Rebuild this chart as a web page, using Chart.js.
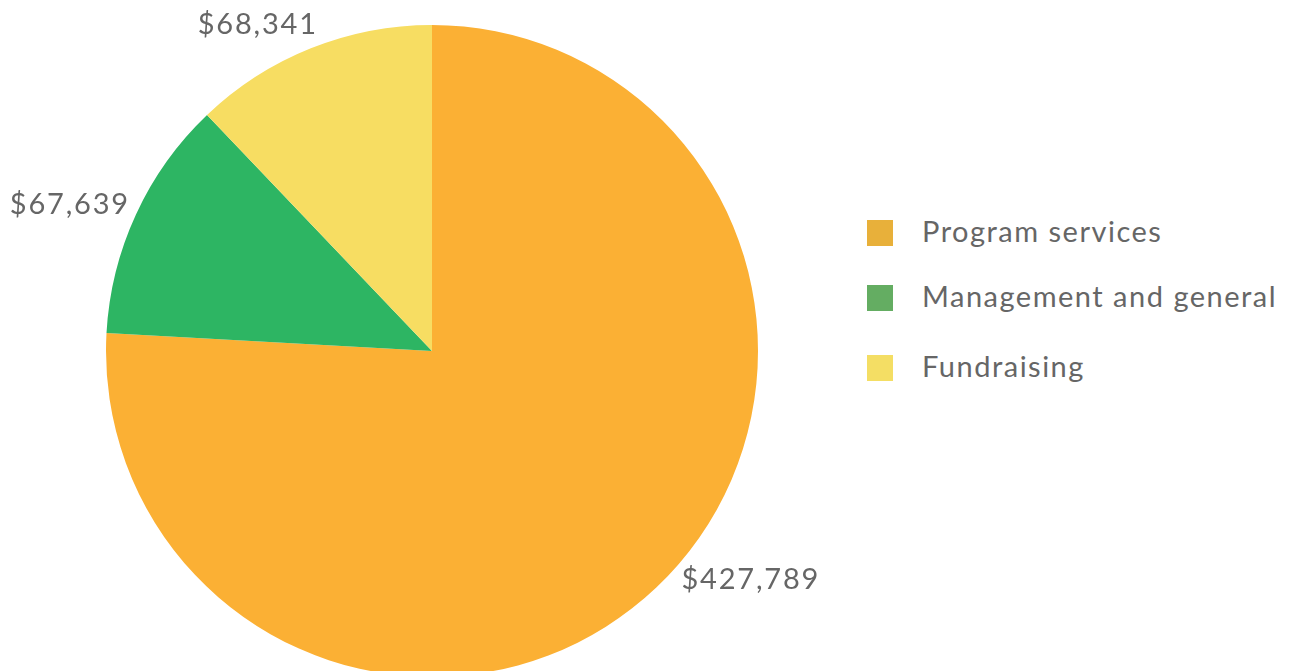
<!DOCTYPE html>
<html>
<head>
<meta charset="utf-8">
<script src="https://cdn.jsdelivr.net/npm/chart.js@4"></script>
<style>
html,body{margin:0;padding:0;background:#fff;overflow:hidden;width:1291px;height:671px;}
#wrap{position:absolute;left:0;top:0;width:864px;height:702px;}
#legend{position:absolute;left:867px;top:0;font-family:Lato,"Open Sans",sans-serif;font-size:29px;letter-spacing:1.5px;color:#666;}
.item{position:absolute;left:0;white-space:nowrap;height:26px;}
.sw{position:absolute;left:0;top:0;width:26px;height:26px;}
.tx{position:absolute;left:55px;top:-6px;line-height:34px;}
</style>
</head>
<body>
<div id="wrap"><canvas id="c" width="864" height="702"></canvas></div>
<div id="legend"></div>
<script>
const categories = ["Program services", "Management and general", "Fundraising"];
const amounts = [427789, 67639, 68341];
const amountLabels = ["$427,789", "$67,639", "$68,341"];
const sliceColors = ["#FBB034", "#2DB563", "#F7DD62"];
const legendColors = ["#E8B03A", "#64AD62", "#F4DE64"];

// legend (HTML)
const legendTops = [233, 298, 368];
const lg = document.getElementById('legend');
categories.forEach((name, i) => {
  const d = document.createElement('div');
  d.className = 'item';
  d.style.top = (legendTops[i] - 13) + 'px';
  const s = document.createElement('span');
  s.className = 'sw';
  s.style.background = legendColors[i];
  const t = document.createElement('span');
  t.className = 'tx';
  t.textContent = name;
  d.appendChild(s); d.appendChild(t);
  lg.appendChild(d);
});

// outside value labels: per-slice angular nudge (deg) and radius (px from centre)
const labelPlacement = [[-11, 392], [-2.6, 391], [-6.2, 371]];
const valueLabels = {
  id: 'valueLabels',
  afterDatasetsDraw(chart) {
    const ctx = chart.ctx;
    const meta = chart.getDatasetMeta(0);
    ctx.save();
    ctx.font = '29px Lato, "Open Sans", sans-serif';
    ctx.letterSpacing = '1.8px';
    ctx.fillStyle = '#666';
    ctx.textAlign = 'center';
    ctx.textBaseline = 'middle';
    meta.data.forEach((arc, i) => {
      const p = arc.getProps(['x', 'y', 'startAngle', 'endAngle'], true);
      const mid = (p.startAngle + p.endAngle) / 2 + labelPlacement[i][0] * Math.PI / 180;
      const r = labelPlacement[i][1];
      ctx.fillText(amountLabels[i], p.x + Math.cos(mid) * r, p.y + Math.sin(mid) * r + 1);
    });
    ctx.restore();
  }
};

new Chart(document.getElementById('c'), {
  type: 'pie',
  data: {
    labels: categories,
    datasets: [{ data: amounts, backgroundColor: sliceColors, borderWidth: 0, hoverOffset: 0 }]
  },
  options: {
    responsive: false,
    animation: false,
    layout: { padding: 25 },
    plugins: { legend: { display: false }, tooltip: { enabled: false } }
  },
  plugins: [valueLabels]
});
</script>
</body>
</html>
